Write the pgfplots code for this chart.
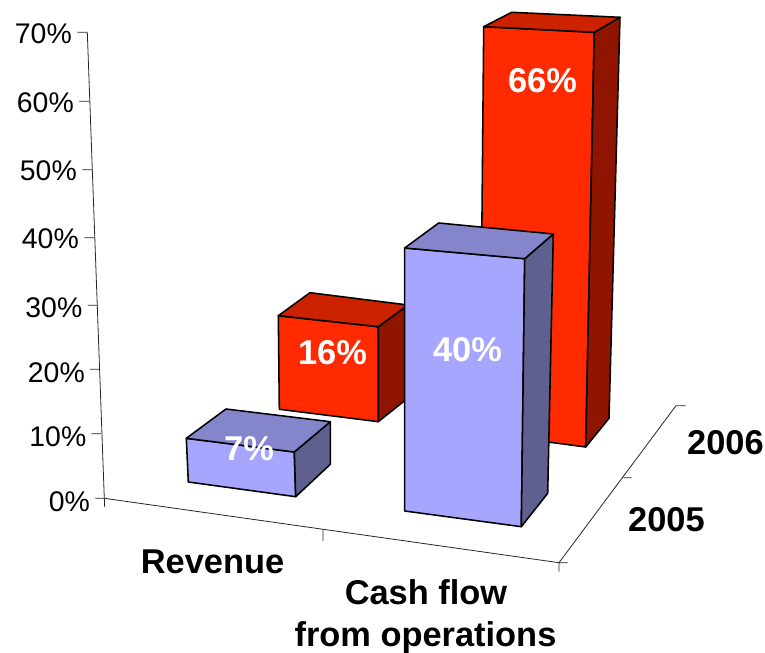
\documentclass[border=0pt]{standalone}
\usepackage{fontspec}
\setmainfont{Liberation Sans}
\usepackage{pgfplots}
\pgfplotsset{compat=1.18}
\definecolor{redF}{HTML}{FF2A00}
\definecolor{redT}{HTML}{CC2200}
\definecolor{redS}{HTML}{8F1500}
\definecolor{bluF}{HTML}{A6A6FF}
\definecolor{bluT}{HTML}{8585CC}
\definecolor{bluS}{HTML}{5F6090}
\pgfplotsset{
  face/.style={draw=black,line width=1.55bp,line join=round,mark=none},
  rule/.style={draw=black!85,line width=0.8bp,mark=none},
}
\newcommand{\tlab}[3]{\node[anchor=base east,inner sep=0pt,font=\fontsize{28.4bp}{30bp}\selectfont] at (#1,#2) {#3};}
\newcommand{\blab}[3]{\node[anchor=base,inner sep=0pt,font=\fontsize{34.4bp}{36bp}\selectfont\bfseries] at (#1,#2) {#3};}
\newcommand{\wlab}[3]{\node[anchor=base,inner sep=0pt,text=white,font=\fontsize{34.4bp}{36bp}\selectfont\bfseries] at (#1,#2) {#3};}
\begin{document}
\begin{tikzpicture}
\path[use as bounding box] (0,0) rectangle (765bp,653bp);
\begin{axis}[
  at={(104.3bp,154.7bp)},anchor=origin,
  x={(227.35bp,-32.2bp)},y={(58.5bp,78.5bp)},z={(0bp,6.65bp)},
  xmin=0,xmax=2,ymin=0,ymax=2,zmin=0,zmax=70,
  hide axis,clip=false]
% value axis
\addplot3[rule] coordinates {(0.0274,-0.0996,0)(0,0,0)(-0.0691,-0.0220,70)};
\addplot3[rule] coordinates {(-0.1089,-0.0383,70)(-0.0691,-0.0220,70)};
\addplot3[rule] coordinates {(-0.0947,-0.0643,60)(-0.0538,-0.0475,60)};
\addplot3[rule] coordinates {(-0.0760,-0.0808,50)(-0.0374,-0.0650,50)};
\addplot3[rule] coordinates {(-0.0636,-0.0949,40)(-0.0222,-0.0779,40)};
\addplot3[rule] coordinates {(-0.0456,-0.1015,30)(-0.0070,-0.0857,30)};
\addplot3[rule] coordinates {(-0.0450,-0.0694,20)(-0.0064,-0.0536,20)};
\addplot3[rule] coordinates {(-0.0461,-0.0431,10)(-0.0075,-0.0273,10)};
\addplot3[rule] coordinates {(-0.0358,-0.0147,0)(0,0,0)};
% floor axes
\addplot3[rule] coordinates {(0,0,0)(2,0,0)(2,2,0)(2.0386,2.0158,0)};
\addplot3[rule] coordinates {(0.9620,0,0)(0.9967,-0.1351,0)};
\addplot3[rule] coordinates {(2,0,0)(2.0267,-0.1037,0)};
\addplot3[rule] coordinates {(2,0,0)(2.0346,0.0142,0)};
\addplot3[rule] coordinates {(2.0038,1.0844,0)(2.0372,1.0981,0)};
% Cash flow, 2006: 66
\addplot3[face,fill=redF] coordinates {(1.3012,1.3656,0)(1.7632,1.3767,0)(1.8692,1.1119,66)(1.4125,0.9960,66)} --cycle;
\addplot3[face,fill=redS] coordinates {(1.7632,1.3767,0)(1.7708,1.7455,0)(1.9269,1.3267,66)(1.8692,1.1119,66)} --cycle;
\addplot3[face,fill=redT] coordinates {(1.4125,0.9960,66)(1.8692,1.1119,66)(1.9269,1.3267,66)(1.4812,1.2076,66)} --cycle;
% Revenue, 2006: 16
\addplot3[face,fill=redF] coordinates {(0.4324,1.3111,0)(0.8630,1.3298,0)(0.8968,1.1984,16)(0.4664,1.1620,16)} --cycle;
\addplot3[face,fill=redS] coordinates {(0.8630,1.3298,0)(0.9109,1.6514,0)(0.9507,1.4970,16)(0.8968,1.1984,16)} --cycle;
\addplot3[face,fill=redT] coordinates {(0.4664,1.1620,16)(0.8968,1.1984,16)(0.9507,1.4970,16)(0.5243,1.4787,16)} --cycle;
% Cash flow, 2005: 40
\addplot3[face,fill=bluF] coordinates {(1.2328,0.3439,0)(1.7433,0.3533,0)(1.7509,0.3819,40)(1.2417,0.3093,40)} --cycle;
\addplot3[face,fill=bluS] coordinates {(1.7433,0.3533,0)(1.7493,0.7812,0)(1.7914,0.7132,40)(1.7509,0.3819,40)} --cycle;
\addplot3[face,fill=bluT] coordinates {(1.2417,0.3093,40)(1.7509,0.3819,40)(1.7914,0.7132,40)(1.3029,0.6529,40)} --cycle;
% Revenue, 2005: 7
\addplot3[face,fill=bluF] coordinates {(0.2859,0.3249,0)(0.7568,0.3308,0)(0.7567,0.3072,7)(0.2864,0.2888,7)} --cycle;
\addplot3[face,fill=bluS] coordinates {(0.7568,0.3308,0)(0.7984,0.7606,0)(0.8101,0.7151,7)(0.7567,0.3072,7)} --cycle;
\addplot3[face,fill=bluT] coordinates {(0.2864,0.2888,7)(0.7567,0.3072,7)(0.8101,0.7151,7)(0.3574,0.6912,7)} --cycle;
\end{axis}
\begin{scope}[x=1bp,y=-1bp,yshift=653bp]
\tlab{72}{44}{70\%}
\tlab{74}{113}{60\%}
\tlab{77}{181}{50\%}
\tlab{79}{249}{40\%}
\tlab{82.5}{318}{30\%}
\tlab{85}{383}{20\%}
\tlab{86.5}{447}{10\%}
\tlab{90}{512}{0\%}
\blab{212.5}{574}{Revenue}
\blab{426}{605}{Cash flow}
\blab{425.5}{647}{from operations}
\blab{725.5}{455}{2006}
\blab{666.5}{532}{2005}
\wlab{542.5}{93}{66\%}
\wlab{467.5}{362}{40\%}
\wlab{332.5}{365}{16\%}
\wlab{249}{461}{7\%}
\end{scope}
\end{tikzpicture}
\end{document}
